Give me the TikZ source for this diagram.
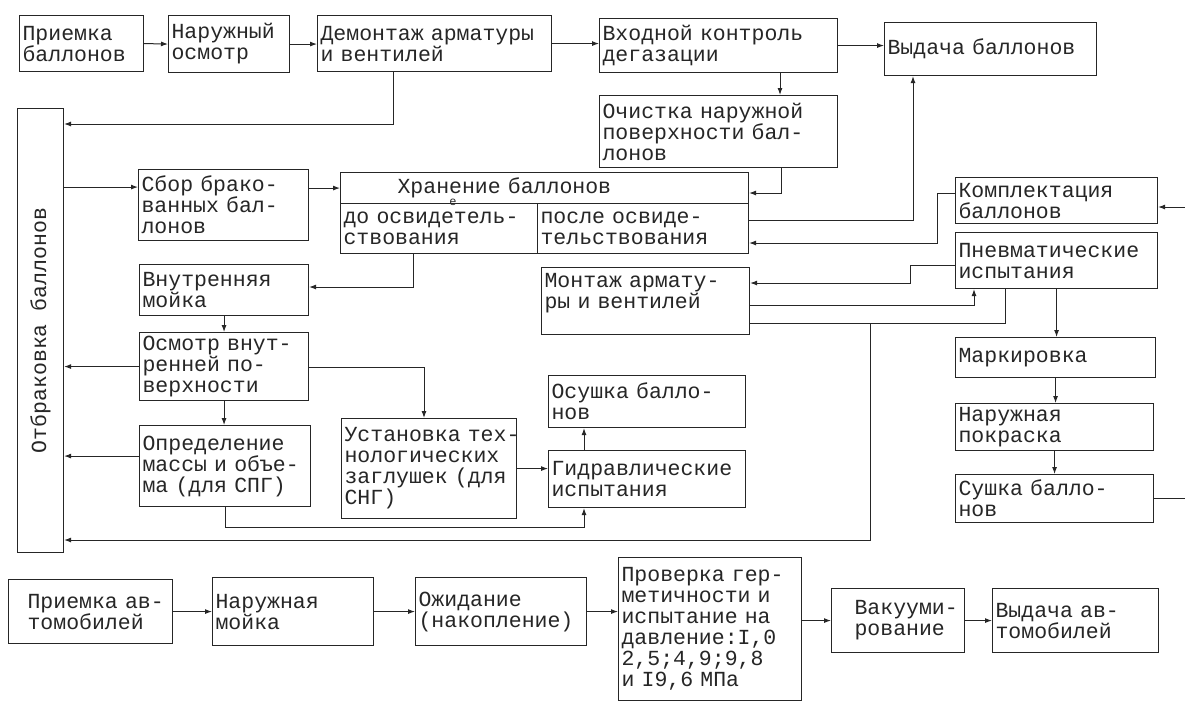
\documentclass[tikz,border=0pt]{standalone}
\usepackage{fontspec}
\newfontfamily\tw{Liberation Mono}
\newcommand\twfont{\tw\fontsize{21.5pt}{21pt}\selectfont}
\usetikzlibrary{arrows.meta}

\begin{document}
\begin{tikzpicture}[
    x=1pt, y=-1pt,
    blk/.style={draw=black!85, text=black!85, line width=1.1pt, anchor=north west, inner sep=3pt, align=left, font=\twfont},
    arrow/.style={-{Latex[length=7pt,width=5pt]}, line width=1pt, black!85},
    wire/.style={line width=1pt, black!85}
]
\useasboundingbox (0,0) rectangle (1185,702);
\fill[white] (0,0) rectangle (1185,702);

% Top row: cylinders in
\node[blk, text width=118pt, minimum height=56pt] (prb) at (19,15) {Приемка\\баллонов};
\node[blk, text width=115pt, minimum height=57pt] (nar) at (168,15) {Наружный\\осмотр};
\node[blk, text width=228pt, minimum height=56pt] (dem) at (317,15) {Демонтаж арматуры\\и вентилей};
\node[blk, text width=232pt, minimum height=54pt] (vkh) at (599,18) {Входной контроль\\дегазации};
\node[blk, text width=206pt, minimum height=53pt] (vyd) at (884,22) {Выдача баллонов};
\node[blk, text width=232pt, minimum height=72pt] (och) at (599,95) {Очистка наружной\\поверхности бал-\\лонов};

% Rejection column
\node[blk, minimum width=46pt, minimum height=444pt,
      label={[rotate=90, font=\twfont, text=black!85]center:Отбраковка баллонов}] (otb) at (17,108) {};

% Storage and inner checks
\node[blk, text width=164pt, minimum height=71pt] (sbor) at (138,169) {Сбор брако-\\ванных бал-\\лонов};
\node[blk, text width=402pt, minimum height=31pt] (khr) at (340,172) {\hspace*{54pt}Хранение баллонов};
\node[blk, text width=191pt, minimum height=50pt] (khrA) at (340,203) {до освидетель-\\ствования};
\node[blk, text width=205pt, minimum height=50pt] (khrB) at (537,203) {после освиде-\\тельствования};
\node[font=\tw\fontsize{12pt}{12pt}\selectfont, text=black!85, inner sep=0pt] (corr) at (453,202) {е};
\node[blk, text width=163pt, minimum height=51pt] (vnm) at (139,264) {Внутренняя\\мойка};
\node[blk, text width=163pt, minimum height=68pt] (osm) at (139,332) {Осмотр внут-\\ренней по-\\верхности};
\node[blk, text width=165pt, minimum height=81pt] (opr) at (139,425) {Определение\\\mbox{массы и объе-}\\ма (для СПГ)};
\node[blk, text width=169pt, minimum height=100pt] (ust) at (341,418) {\mbox{Установка тех-}\\нологических\\\mbox{заглушек (для}\\СНГ)};
\node[blk, text width=191pt, minimum height=52pt] (osu) at (548,375) {Осушка балло-\\нов};
\node[blk, text width=191pt, minimum height=57pt] (gid) at (548,450) {Гидравлические\\испытания};
\node[blk, text width=202pt, minimum height=67pt] (mon) at (541,267) {Монтаж армату-\\ры и вентилей\\\mbox{}};

% Right column
\node[blk, text width=196pt, minimum height=46pt] (kompl) at (955,177) {Комплектация\\баллонов};
\node[blk, text width=196pt, minimum height=56pt] (pnevm) at (955,232) {Пневматические\\испытания};
\node[blk, text width=194pt, minimum height=40pt] (mark) at (955,337) {Маркировка};
\node[blk, text width=192pt, minimum height=47pt] (pokr) at (955,403) {Наружная\\покраска};
\node[blk, text width=192pt, minimum height=48pt] (sush) at (955,474) {Сушка балло-\\нов};

% Bottom row: vehicles
\node[blk, text width=158pt, minimum height=64pt] (prav) at (8,579) {\hspace*{16pt}Приемка ав-\\\hspace*{16pt}томобилей};
\node[blk, text width=155pt, minimum height=68pt] (nmoi) at (212,577) {Наружная\\мойка};
\node[blk, text width=165pt, minimum height=68pt] (ozh) at (415,577) {Ожидание\\(накопление)};
\node[blk, text width=177pt, minimum height=143pt] (prov) at (618,557) {\mbox{Проверка гер-}\\\mbox{метичности и}\\\mbox{испытание на}\\\mbox{давление:I,0}\\\mbox{2,5;4,9;9,8}\\\mbox{и I9,6 МПа}};
\node[blk, text width=127pt, minimum height=64pt] (vak) at (831,588) {\hspace*{20pt}Вакууми-\\\hspace*{20pt}рование};
\node[blk, text width=160pt, minimum height=64pt] (vydav) at (992,588) {Выдача ав-\\томобилей};

% Junction points
\coordinate (jo) at (780,0);
\coordinate (jq) at (781,193);
\coordinate (jd) at (393,124);
\coordinate (sb) at ([yshift=18pt]sbor.west);
\coordinate (jh) at (413,287);
\coordinate (ju) at (424,367);
\coordinate (jl) at ([yshift=10pt]opr.west);
\coordinate (jg) at (584,527);
\coordinate (jv) at (913,220);
\coordinate (jk1) at (937,193);
\coordinate (jk2) at (937,243);
\coordinate (jp1) at (910,265);
\coordinate (jp2) at (910,283);
\coordinate (jm) at (974,305);
\coordinate (jr1) at (1005,323);
\coordinate (jr2) at (870,323);
\coordinate (jr3) at (870,540);
\coordinate (ek) at (1185,207);
\coordinate (es) at (1185,498);

% Top row flow
\draw[arrow] (prb.east) -- (nar.west);
\draw[arrow] (nar.east) -- (nar.east -| dem.west);
\draw[arrow] (dem.east) -- (dem.east -| vkh.west);
\draw[arrow] (vkh.east) -- (vkh.east -| vyd.west);
\draw[arrow] (vkh.south -| jo) -- (och.north -| jo);
\draw[arrow] (och.south -| jq) |- (khr.east |- jq);

% Left part
\draw[arrow] (dem.south -| jd) |- (otb.east |- jd);
\draw[arrow] (otb.east |- sb) -- (sb);
\draw[arrow] (sbor.east |- khr.west) -- (khr.west);
\draw[arrow] (khrA.south -| jh) |- (vnm.east |- jh);
\draw[arrow] (vnm.south) -- (osm.north);
\draw[arrow] (osm.west) -- (otb.east |- osm.west);
\draw[arrow] (osm.east |- ju) -| (ust.north -| ju);
\draw[arrow] (osm.south) -- (opr.north -| osm.south);
\draw[arrow] (jl) -- (otb.east |- jl);
\draw[arrow] (opr.south) |- (jg) -- (gid.south -| jg);
\draw[arrow] (ust.east) -- (gid.west |- ust.east);
\draw[arrow] (gid.north -| jg) -- (osu.south -| jg);

% Right part
\draw[arrow] (khrB.east |- jv) -| (vyd.south -| jv);
\draw[arrow] (kompl.west |- jk1) -- (jk1) -- (jk2) -- (khrB.east |- jk2);
\draw[arrow] (pnevm.west |- jp1) -- (jp1) -- (jp2) -- (mon.east |- jp2);
\draw[arrow] (mon.east |- jm) -| (pnevm.south -| jm);
\draw[wire] (pnevm.south -| jr1) -- (jr1) -- (mon.east |- jr1);
\draw[arrow] (jr2) -- (jr3) -- (otb.east |- jr3);
\draw[arrow] (pnevm.south) -- (pnevm.south |- mark.north);
\draw[arrow] (mark.south) -- (mark.south |- pokr.north);
\draw[arrow] (pokr.south) -- (pokr.south |- sush.north);
\draw[arrow] (ek) -- (kompl.east |- ek);
\draw[wire] (sush.east |- es) -- (es);

% Bottom row flow
\draw[arrow] (prav.east) -- (prav.east -| nmoi.west);
\draw[arrow] (nmoi.east) -- (nmoi.east -| ozh.west);
\draw[arrow] (ozh.east) -- (ozh.east -| prov.west);
\draw[arrow] (vak.west -| prov.east) -- (vak.west);
\draw[arrow] (vak.east) -- (vydav.west);

\end{tikzpicture}
\end{document}
